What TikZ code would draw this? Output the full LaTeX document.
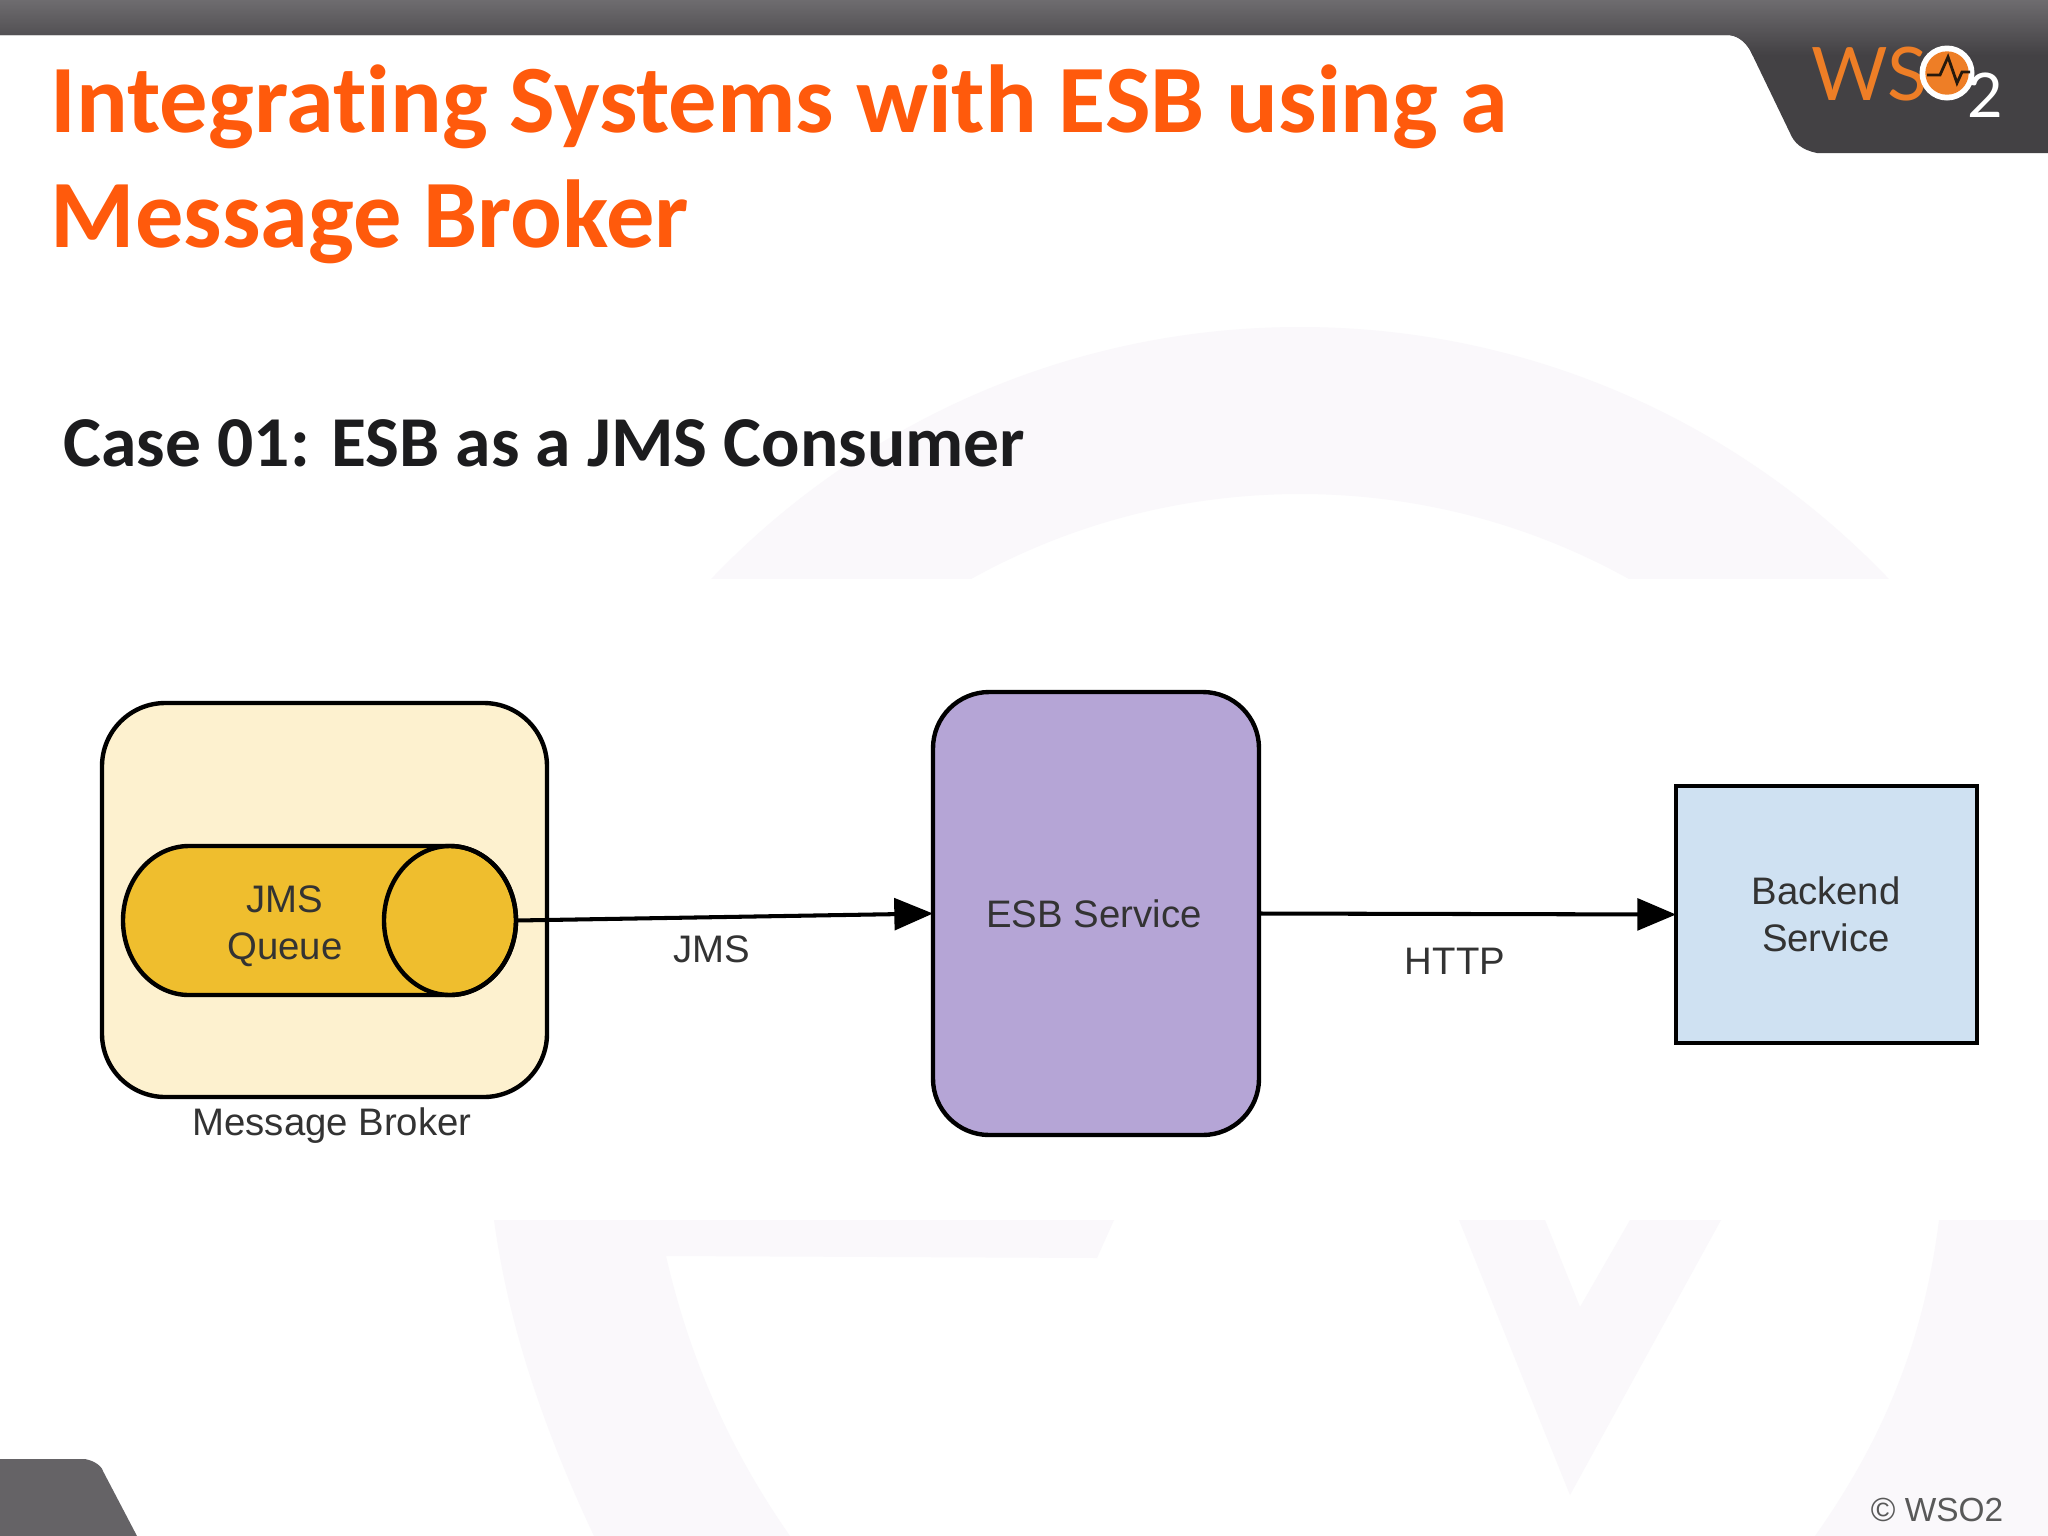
\documentclass[tikz,border=0pt]{standalone}
\usepackage{fontspec}
\setmainfont{Liberation Sans}
\newfontfamily\slidefont[Ligatures=NoCommon]{Carlito}
\newfontfamily\logofont{Lato}
\usetikzlibrary{arrows.meta}
\definecolor{titleorange}{HTML}{FF5A0C}
\definecolor{captionblack}{HTML}{1C1C1E}
\definecolor{labelgray}{HTML}{333333}
\definecolor{bandtop}{HTML}{6E6C6F}
\definecolor{banddark}{HTML}{434144}
\definecolor{cornergray}{HTML}{656366}
\definecolor{markfaint}{HTML}{FAF8FB}
\definecolor{logoorange}{HTML}{EE7E26}
\definecolor{brokerfill}{HTML}{FDF1CF}
\definecolor{queuefill}{HTML}{EFBE2E}
\definecolor{esbfill}{HTML}{B5A5D6}
\definecolor{backendfill}{HTML}{CFE1F2}

\begin{document}
\begin{tikzpicture}%
        [x={(0.01cm, 0cm)},
        y={(0cm, -0.01cm)},
        title/.style={anchor=base west,inner sep=0pt,text=titleorange,font=\slidefont\bfseries\fontsize{27.45}{30}\selectfont},
        caption/.style={anchor=base west,inner sep=0pt,text=captionblack,font=\slidefont\bfseries\fontsize{20.35}{22}\selectfont},
        box/.style={draw=black,line width=1.25pt,inner sep=0pt,outer sep=0pt,anchor=north west},
        tube/.style={draw=black,line width=1.25pt,fill=queuefill},
        tag/.style={inner sep=0pt,align=center,text=labelgray,font=\fontsize{10.9}{13.4}\selectfont},
        flow/.style={draw=black,line width=1.15pt,-{Triangle[length=11pt,width=9pt]}},
        faint/.style={fill=markfaint}]
    %
    %% Watermark behind the slide
    \fill[white] (0,0) rectangle (2048,1536);
    \begin{scope}
        \clip (0,0) rectangle (2048,578);
        \fill[faint,even odd rule] (1300,1141) circle (814) (1300,1172) circle (678);
    \end{scope}
    \fill[faint] (494,1220) -- (1114,1220) -- (1097,1258) -- (666,1256) .. controls (690,1360) and (730,1450) .. (790,1536) -- (594,1536) .. controls (530,1400) and (505,1300) .. cycle;
    \fill[faint] (1459,1220) -- (1545,1220) -- (1580,1307) -- (1630,1220) -- (1721,1220) -- (1570,1495) -- cycle;
    \fill[faint] (1939,1220) -- (2048,1220) -- (2048,1536) -- (1815,1536) .. controls (1890,1430) and (1925,1330) .. cycle;
    %
    %% Band on top and logo plate
    \fill[banddark] (0,0) -- (2048,0) -- (2048,153) -- (1817,153) .. controls (1802,150) and (1794,143) .. (1790,133) -- (1750,50) .. controls (1744,40) and (1736,35) .. (1727,35) -- (0,35) -- cycle;
    \begin{scope}
        \clip (0,0) -- (2048,0) -- (2048,60) -- (1755,60) -- (1750,50) .. controls (1744,40) and (1736,35) .. (1727,35) -- (0,35) -- cycle;
        \shade[top color=bandtop,bottom color=banddark] (0,0) rectangle (2048,55);
    \end{scope}
    \fill[cornergray] (0,1459) -- (85,1459) .. controls (95,1461) and (102,1466) .. (104,1473) -- (137,1536) -- (0,1536) -- cycle;
    %
    %% Logo
    \node[anchor=base west,inner sep=0pt,text=logoorange,font=\logofont\fontsize{21}{21}\selectfont] (logotext) at (1811,100) {WS};
    \fill[white] (1947,73) circle (27.5);
    \fill[logoorange] (1947,73) circle (21.7);
    \draw[black!80!brown,line width=0.8pt] (1927,75) -- (1940,75) -- (1948,57) -- (1957,83) -- (1962,72) -- (1970,72);
    \node[anchor=base west,inner sep=0pt,text=white,font=\logofont\fontsize{17.5}{18}\selectfont] (logotwo) at (1967,117) {2};
    %
    %% Headings
    \node[title] (headone) at (50,132) {Integrating Systems with ESB using a};
    \node[title] (headtwo) at (50,247) {Message Broker};
    \node[caption] (casename) at (63,466) {Case 01: ESB as a JMS Consumer};
    %
    %% Drawing the boxes
    \node[box,fill=brokerfill,rounded corners=18pt,minimum width=445*0.01cm,minimum height=394*0.01cm] (broker) at (102,703) {};
    \node[box,fill=esbfill,rounded corners=16pt,minimum width=326*0.01cm,minimum height=443*0.01cm] (esb) at (933,692) {};
    \node[box,fill=backendfill,minimum width=301*0.01cm,minimum height=257*0.01cm] (backend) at (1676,786) {};
    \node[inner sep=0pt,outer sep=0pt,minimum width=393*0.01cm,minimum height=149*0.01cm] (queue) at (319.5,920.5) {};
    \filldraw[tube] (450,846) -- (189,846) arc[start angle=270,end angle=90,x radius=66,y radius=74.5] -- (450,995) arc[start angle=90,end angle=-90,x radius=66,y radius=74.5] -- cycle;
    \draw[line width=1.25pt] (450,920.5) ellipse [x radius=66,y radius=74.5];
    %
    %% Drawing the connectors
    \draw[flow] (queue.east) -- (esb.west);
    \draw[flow] (esb.east) -- (backend.west);
    %
    %% Drawing the labels
    \node[tag] (queuetag) at (285,926) {JMS\\Queue};
    \node[tag] (brokertag) at (332,1126) {Message Broker};
    \node[tag] (jmstag) at (712,949) {JMS};
    \node[tag] (esbtag) at (1094,914) {ESB Service};
    \node[tag] (httptag) at (1455,961) {HTTP};
    \node[tag] (backendtag) at (1826,914) {Backend\\Service};
    \node[tag,text=black!65,font=\fontsize{9.5}{12}\selectfont] (copytag) at (1937,1510) {© WSO2};
    \useasboundingbox (0,0) rectangle (2048,1536);
\end{tikzpicture}
\end{document}
